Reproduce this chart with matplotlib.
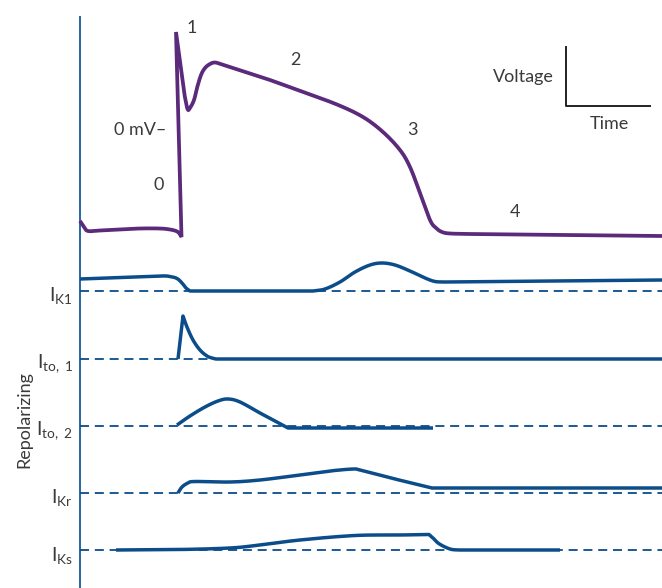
import numpy as np
import matplotlib.pyplot as plt

plt.rcParams["font.family"] = ["Lato", "DejaVu Sans"]
plt.rcParams["mathtext.fontset"] = "custom"
plt.rcParams["mathtext.rm"] = "Lato"
plt.rcParams["mathtext.it"] = "Lato"

PURPLE = "#5b2a7b"
BLUE = "#0b4d8a"
AXIS_BLUE = "#2468a4"
TEXT = "#3a3a3a"

# action potential trace (x = time px, y = screen px)
ap_x = [80, 84, 88, 100, 120, 140, 160, 170, 176, 179, 181.5, 176,
        184.5, 187.5, 190, 194, 197, 201, 205, 210, 215, 222,
        250, 270, 303, 337, 363, 383, 400, 410, 420, 430, 436,
        442, 450, 470, 662]
ap_y = [221, 227, 231, 230.5, 229.5, 228.5, 228.5, 229.5, 231, 233, 237, 32,
        95, 109, 108, 100, 88, 75, 68, 64, 62.5, 64.5,
        73.5, 80, 92, 104.5, 117, 132, 150, 167, 193, 220, 228,
        232, 233.5, 234, 236]
ap_corners = [10, 11, 12, 35]

phase_labels = ["0", "1", "2", "3", "4"]
phase_x = [159, 192, 295, 412, 515]
phase_y = [185, 28, 60, 130, 212]

# repolarizing currents
current_names = [r"$\mathrm{I_{K1}}$", r"$\mathrm{I_{to,\ 1}}$", r"$\mathrm{I_{to,\ 2}}$",
                 r"$\mathrm{I_{Kr}}$", r"$\mathrm{I_{Ks}}$"]
baselines = [291, 359, 426, 493, 550]

ik1_x = [80, 120, 160, 170, 177, 182, 186, 190, 313, 325, 340, 355, 370, 382,
         395, 410, 425, 435, 445, 662]
ik1_y = [279, 277.5, 276, 276.5, 278.5, 283, 288, 291, 291, 289, 282, 272, 265, 263,
         265, 271, 278, 281.5, 282, 280]
ik1_corners = [7, 8, 18]

ito1_x = [178, 183, 187, 193, 200, 207, 212, 216, 662]
ito1_y = [359, 316, 327, 340, 350, 356, 358, 359, 359]
ito1_corners = [1, 7]

ito2_x = [177, 190, 205, 218, 228, 240, 260, 275, 288, 433]
ito2_y = [425, 416, 407, 401, 399, 402, 413, 421, 428, 428]
ito2_corners = [8]

ikr_x = [178, 182, 188, 195, 230, 260, 300, 330, 353, 360, 395, 432, 662]
ikr_y = [493, 487, 483, 481.5, 482, 480, 475, 471, 469, 470, 479, 488, 488]
ikr_corners = [11]

iks_x = [116, 180, 230, 260, 300, 355, 400, 429, 433, 438, 445, 452, 460, 560]
iks_y = [550, 549.5, 548, 545, 540, 535.5, 535, 534.5, 538, 543, 547, 549.5, 550, 550]
iks_corners = [7, 12]

currents_x = [ik1_x, ito1_x, ito2_x, ikr_x, iks_x]
currents_y = [ik1_y, ito1_y, ito2_y, ikr_y, iks_y]
currents_c = [ik1_corners, ito1_corners, ito2_corners, ikr_corners, iks_corners]


def smooth(xs, ys, corners=(), n=12):
    """Catmull-Rom curve through the points, keeping corners sharp."""
    pts = np.column_stack([xs, ys]).astype(float)
    cuts = sorted(set([0, len(pts) - 1] + list(corners)))
    out = []
    for a, b in zip(cuts[:-1], cuts[1:]):
        seg = pts[a:b + 1]
        if len(seg) < 3:
            out.append(seg)
            continue
        ext = np.vstack([2 * seg[0] - seg[1], seg, 2 * seg[-1] - seg[-2]])
        t = np.linspace(0, 1, n, endpoint=False)[:, None]
        for i in range(1, len(ext) - 2):
            p0, p1, p2, p3 = ext[i - 1], ext[i], ext[i + 1], ext[i + 2]
            out.append(0.5 * ((2 * p1) + (-p0 + p2) * t
                              + (2 * p0 - 5 * p1 + 4 * p2 - p3) * t ** 2
                              + (-p0 + 3 * p1 - 3 * p2 + p3) * t ** 3))
        out.append(seg[-1:])
    res = np.vstack(out)
    return res[:, 0], res[:, 1]


fig = plt.figure(figsize=(6.62, 5.88), dpi=100)
ax = fig.add_axes([0, 0, 1, 1])
ax.set_xlim(0, 662)
ax.set_ylim(588, 0)
ax.axis("off")

# left axis line
ax.plot([80, 80], [16, 588], color=AXIS_BLUE, lw=1.4, solid_capstyle="butt")

sx, sy = smooth(ap_x, ap_y, ap_corners)
ax.plot(sx, sy, color=PURPLE, lw=2.7, solid_joinstyle="miter", solid_capstyle="butt")
for lab, x, y in zip(phase_labels, phase_x, phase_y):
    ax.text(x, y, lab, fontsize=13, color=TEXT, ha="center", va="center")
ax.text(166, 130, "0 mV\u2013", fontsize=13, color=TEXT, ha="right", va="center")

# scale bar
ax.plot([566, 566, 650], [47, 106, 106], color="#222222", lw=1.4)
ax.text(554, 77, "Voltage", fontsize=13, color=TEXT, ha="right", va="center")
ax.text(609, 124, "Time", fontsize=13, color=TEXT, ha="center", va="center")

for name, base, cx, cy, cc in zip(current_names, baselines, currents_x,
                                   currents_y, currents_c):
    ax.plot([80, 662], [base, base], color=BLUE, lw=1.3, dashes=(5, 3.2))
    sx, sy = smooth(cx, cy, cc)
    ax.plot(sx, sy, color=BLUE, lw=2.5, solid_joinstyle="round", solid_capstyle="butt")
    ax.text(73, base + 5, name, fontsize=14, color=TEXT, ha="right", va="center")

ax.text(24, 420, "Repolarizing", fontsize=13, color=TEXT, rotation=90,
        ha="center", va="center")

fig.savefig("out.png", dpi=100)
